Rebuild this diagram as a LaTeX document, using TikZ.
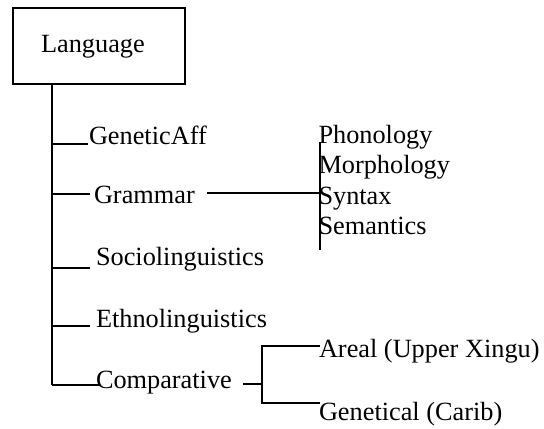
\documentclass[tikz,border=0pt]{standalone}
\usepackage{fontspec}
\setmainfont{Liberation Serif}
\begin{document}
\begin{tikzpicture}[x=1bp,y=-1bp,
  every path/.style={line width=2bp},
  lbl/.style={inner sep=0pt, anchor=base west, font=\fontsize{26.4}{30}\selectfont},
  rootbox/.style={draw, line width=2.2bp, minimum width=172bp, minimum height=76bp, inner sep=0pt}]
\useasboundingbox (0,0) rectangle (544,428);

% root
\node[rootbox] (lang) at (98.9,46.3) {};
\node[inner sep=0pt, font=\fontsize{26.4}{30}\selectfont] (langtxt) at ([xshift=-6bp]lang.center) {Language};

% first level
\node[lbl] (gen) at (88,144) {GeneticAff};
\node[lbl] (gram) at (93,203) {Grammar};
\node[lbl] (soc) at (95,265) {Sociolinguistics};
\node[lbl] (eth) at (95,327) {Ethnolinguistics};
\node[lbl] (comp) at (95,388) {Comparative};

% grammar subfields
\node[lbl] (pho) at (317.5,143) {Phonology};
\node[lbl] (mor) at (317.5,173.5) {Morphology};
\node[lbl] (syn) at (317.5,204) {Syntax};
\node[lbl] (sem) at (317.5,234.5) {Semantics};

% comparative subfields
\node[lbl] (are) at (318,357) {Areal (Upper Xingu)};
\node[lbl] (gnt) at (318,420) {Genetical (Carib)};

% trunk and branch points
\coordinate (tg) at (51.5,143.5);
\coordinate (tr) at (51.5,194);
\coordinate (ts) at (51.5,268);
\coordinate (te) at (51.5,326);
\coordinate (tc) at (51.5,385);
\draw (lang.south -| tc) -- (tc);
\draw (tg) -- (88,143.5);
\draw (tr) -- (90,194);
\draw (ts) -- (90,268);
\draw (te) -- (90,326);
\draw (tc) -- (100,385);

% grammar bracket
\coordinate (gb1) at (320,142);
\coordinate (gb2) at (320,250);
\draw (gb1) -- (gb2);
\draw (207,193) -- (320,193);

% comparative bracket
\coordinate (cb1) at (262,346);
\coordinate (cb2) at (262,403);
\draw (243,384) -- (262,384);
\draw (320,346) -- (cb1) -- (cb2) -- (320,403);
\end{tikzpicture}
\end{document}
